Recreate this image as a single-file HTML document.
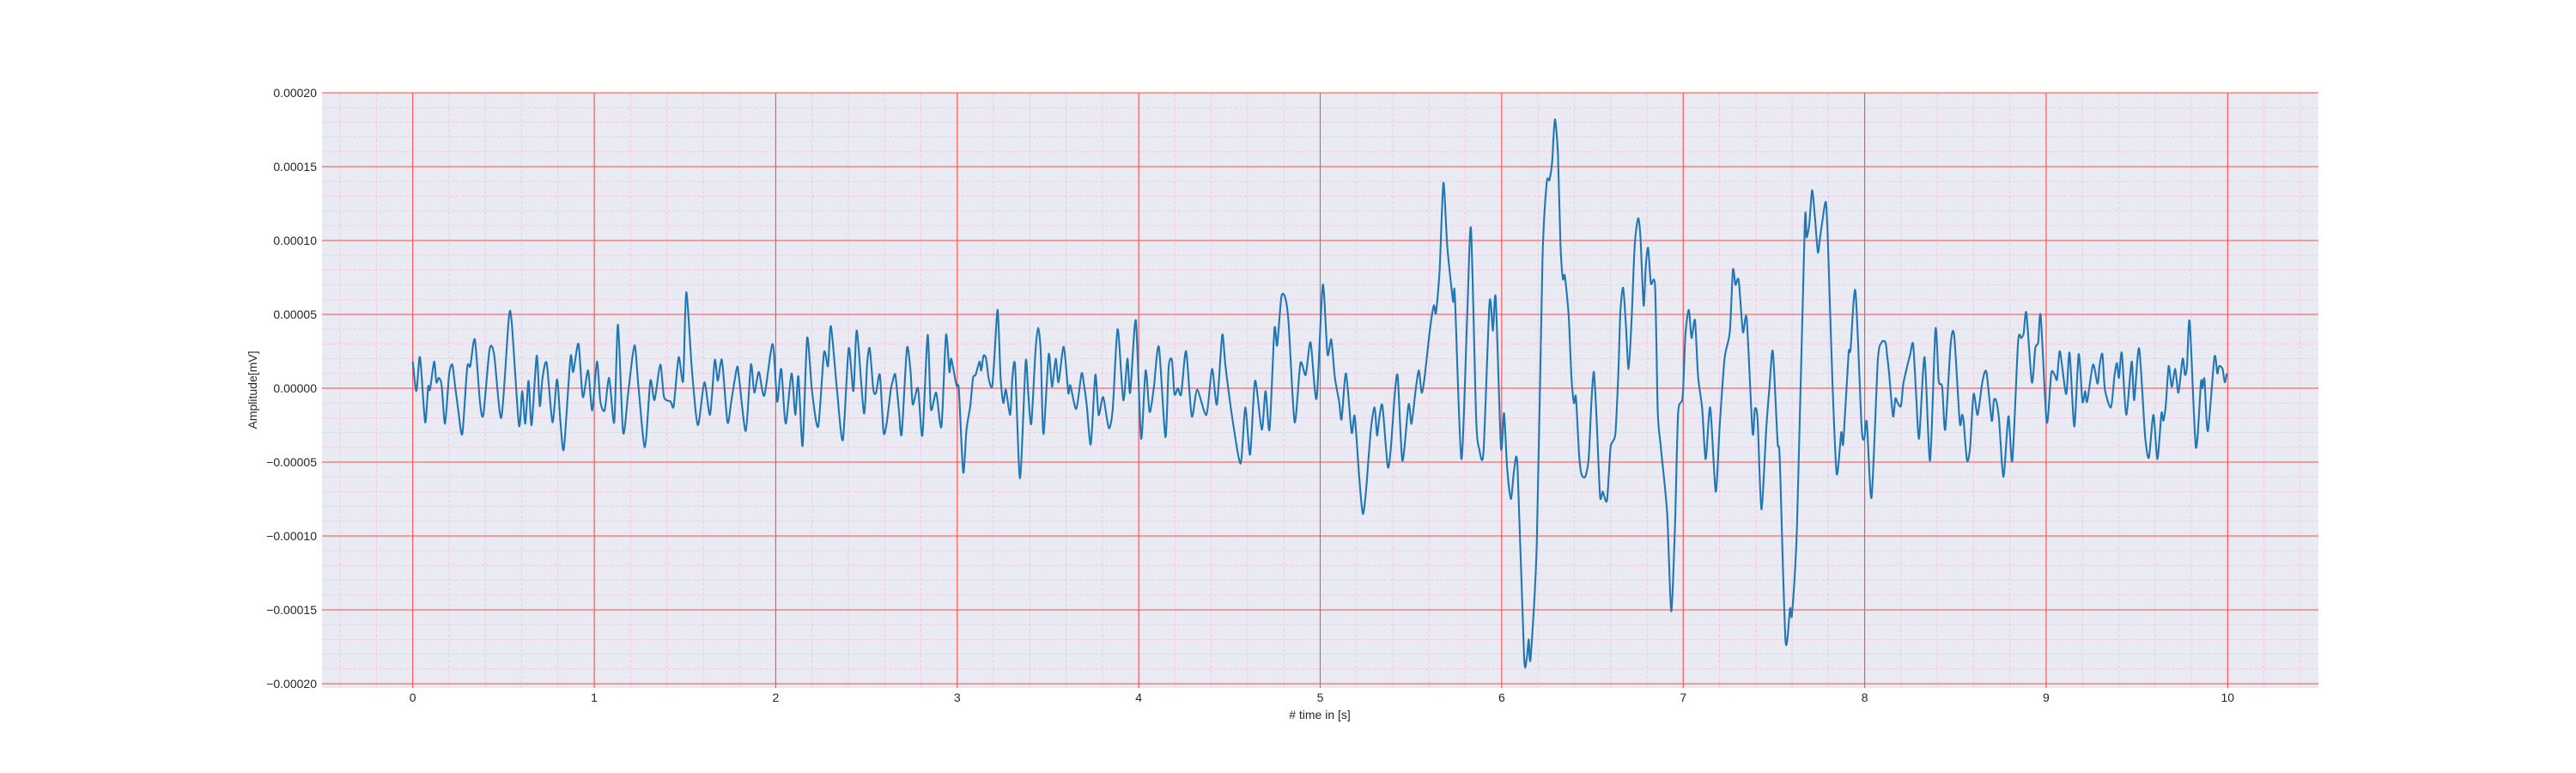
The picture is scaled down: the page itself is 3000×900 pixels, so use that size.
<!DOCTYPE html>
<html><head><meta charset="utf-8"><style>
html,body{margin:0;padding:0;background:#fff;}
svg{display:block;}
text{font-family:"Liberation Sans","DejaVu Sans",sans-serif;fill:#262626;}
</style></head><body>
<svg id="chart" xmlns="http://www.w3.org/2000/svg" width="3000" height="900" viewBox="0 0 3000 900">
<rect x="375" y="108" width="2325" height="693" fill="#eaeaf2"/>
<g id="grid-minor"></g>
<g id="grid-major"></g>
<g id="xticks"></g>
<g id="yticks"></g>
<path id="series" fill="none" stroke="#1f77b4" stroke-width="2.1" stroke-linejoin="round"/>
<text x="1537" y="837" font-size="14" text-anchor="middle"># time in [s]</text>
<text x="0" y="0" font-size="14" text-anchor="middle" transform="translate(299,454) rotate(-90)">Amplitude[mV]</text>
</svg>
<script>
const xTickValues=[0,1,2,3,4,5,6,7,8,9,10];
const yTickValues=[0.0002,0.00015,0.0001,0.00005,0,-0.00005,-0.0001,-0.00015,-0.0002];
const yTickLabels=["0.00020","0.00015","0.00010","0.00005","0.00000","\u22120.00005","\u22120.00010","\u22120.00015","\u22120.00020"];
const timeS=[0,.02,.04,.068,.085,.095,.118,.13,.144,.159,.178,.2,.218,.233,.25,.273,.3,.317,.342,.37,.389,.423,.448,.488,.529,.545,.585,.603,.62,.638,.655,.683,.7,.715,.738,.77,.795,.814,.833,.869,.884,.913,.937,.966,.989,1.015,1.034,1.057,1.082,1.11,1.131,1.159,1.188,1.222,1.243,1.279,1.309,1.332,1.364,1.385,1.421,1.438,1.465,1.49,1.507,1.539,1.571,1.607,1.638,1.664,1.681,1.704,1.734,1.755,1.786,1.797,1.835,1.863,1.882,1.907,1.937,1.983,2.008,2.03,2.055,2.087,2.108,2.125,2.148,2.173,2.2,2.234,2.266,2.288,2.304,2.338,2.37,2.402,2.428,2.447,2.486,2.504,2.518,2.538,2.553,2.574,2.594,2.612,2.634,2.645,2.659,2.679,2.694,2.723,2.743,2.755,2.784,2.808,2.837,2.855,2.884,2.913,2.938,2.957,2.967,2.996,3.009,3.033,3.051,3.072,3.087,3.101,3.123,3.132,3.145,3.159,3.174,3.192,3.205,3.223,3.239,3.254,3.268,3.292,3.304,3.319,3.346,3.377,3.391,3.408,3.431,3.446,3.46,3.475,3.504,3.522,3.543,3.558,3.587,3.612,3.623,3.656,3.685,3.699,3.714,3.736,3.761,3.779,3.804,3.835,3.857,3.884,3.915,3.938,3.953,3.984,4.013,4.038,4.06,4.083,4.111,4.147,4.165,4.183,4.197,4.216,4.234,4.261,4.292,4.322,4.373,4.404,4.431,4.46,4.478,4.518,4.562,4.587,4.614,4.641,4.678,4.699,4.721,4.748,4.763,4.786,4.808,4.826,4.859,4.891,4.92,4.947,4.98,5.014,5.04,5.061,5.08,5.104,5.118,5.142,5.173,5.19,5.216,5.235,5.252,5.279,5.3,5.313,5.326,5.343,5.372,5.389,5.41,5.427,5.453,5.487,5.503,5.527,5.544,5.559,5.575,5.605,5.626,5.638,5.658,5.679,5.7,5.732,5.742,5.778,5.81,5.831,5.859,5.876,5.9,5.933,5.952,5.967,5.996,6.013,6.03,6.051,6.068,6.087,6.123,6.138,6.149,6.159,6.193,6.225,6.248,6.263,6.278,6.293,6.31,6.324,6.337,6.348,6.369,6.384,6.398,6.409,6.426,6.439,6.46,6.479,6.494,6.508,6.523,6.542,6.557,6.58,6.599,6.612,6.627,6.642,6.654,6.669,6.684,6.699,6.716,6.733,6.752,6.765,6.782,6.794,6.807,6.822,6.845,6.86,6.877,6.912,6.934,6.955,6.972,6.997,7.012,7.031,7.046,7.065,7.082,7.105,7.124,7.149,7.179,7.201,7.228,7.257,7.274,7.288,7.306,7.329,7.35,7.382,7.395,7.41,7.431,7.458,7.475,7.494,7.52,7.532,7.564,7.589,7.6,7.627,7.67,7.68,7.695,7.71,7.725,7.742,7.754,7.769,7.786,7.797,7.822,7.846,7.871,7.882,7.911,7.922,7.949,7.983,7.998,8.012,8.038,8.072,8.093,8.115,8.123,8.134,8.156,8.169,8.182,8.2,8.213,8.233,8.251,8.267,8.283,8.3,8.33,8.36,8.39,8.408,8.427,8.444,8.473,8.493,8.524,8.536,8.545,8.564,8.581,8.6,8.622,8.648,8.671,8.7,8.712,8.726,8.741,8.765,8.792,8.814,8.845,8.863,8.876,8.891,8.921,8.94,8.956,8.97,9.003,9.028,9.047,9.06,9.076,9.11,9.129,9.155,9.179,9.2,9.215,9.226,9.258,9.283,9.295,9.31,9.324,9.357,9.376,9.39,9.401,9.417,9.441,9.471,9.485,9.512,9.545,9.566,9.591,9.613,9.635,9.646,9.659,9.675,9.692,9.711,9.729,9.752,9.765,9.776,9.791,9.825,9.853,9.861,9.872,9.891,9.927,9.943,9.953,9.972,9.984,9.995];
const ampE5=[1.8,-.2,2.1,-2.3,.1,-.1,1.8,.4,.7,.2,-2.4,.9,1.6,.2,-1.4,-3.1,1.4,1.5,3.3,-.9,-1.8,2.6,2.3,-2.0,4.7,4.5,-2.5,-.2,-2.4,.5,-2.5,2.2,-1.2,.7,1.7,-2.3,.6,-2.3,-4.1,2.1,1.1,3.0,-.6,1.2,-1.5,1.8,-.9,-1.5,.7,-2.3,4.3,-3.0,-.2,2.9,.2,-4.0,.5,-.8,1.6,-.6,-.9,-1.2,2.1,.5,6.5,1.1,-2.5,.4,-1.8,1.9,.5,1.9,-2.3,-.9,1.4,.8,-2.9,1.6,-.3,1.1,-.5,3.0,-.9,1.3,-2.4,1.0,-1.8,.8,-3.9,3.4,-.2,-2.6,2.4,1.5,4.2,-.2,-3.5,2.7,-.2,3.9,-1.7,1.7,2.7,-.1,-.3,.9,-3.0,-2.3,-.1,.5,.9,-1.5,-3.1,2.7,1.1,-1.1,0,-3.2,3.6,-1.4,-.3,-2.6,3.6,1.1,2.0,.2,-.1,-5.7,-2.8,-1.2,.7,.9,1.8,1.2,2.2,2.0,.6,.1,2.1,5.3,.7,-1.0,-.1,-1.8,.7,1.5,-6.1,1.8,-.3,-2.4,2.5,4.1,2.5,-3.1,2.3,.1,2.0,.4,2.8,-.3,.2,-1.4,1.0,.2,-1.2,-3.8,.9,-1.8,-.6,-2.7,-1.4,4.0,-.8,2.0,-.3,4.6,-3.4,1.2,-1.6,0,2.8,-3.3,1.4,1.9,-.4,0,-.4,2.5,-1.9,-.1,-1.8,1.3,-1.1,3.6,1.5,-2.2,-5.1,-1.3,-4.5,.5,-2.8,-.2,-2.8,4.0,2.9,6.2,6.1,4.4,-2.3,1.7,.9,3.1,-.7,7.0,2.3,3.3,.8,-.9,-2.1,1.0,-3.0,-1.9,-6.2,-8.5,-7.0,-2.8,-1.3,-3.2,-2.0,-1.2,-5.3,-4.1,-.5,.8,-4.9,-1.1,-2.4,0,1.2,-.3,.7,4.0,5.6,5.1,8.0,13.9,9.6,5.9,6.3,-4.8,4.9,10.8,-2.0,-4.1,-4.3,5.8,3.9,6.1,-4.0,-1.7,-5.4,-7.5,-5.6,-5.3,-18.1,-18.3,-17.0,-18.3,-10.6,8.8,13.9,14.1,15.3,18.2,15.8,9.7,7.4,7.6,4.9,.8,-1.0,-.6,-4.4,-5.8,-6.0,-4.8,-1.0,1.1,-2.1,-7.3,-7.0,-7.6,-4.1,-3.6,-3.0,.8,5.2,6.8,4.4,1.3,4.7,9.7,11.5,10.1,5.6,8.3,9.5,7.1,6.9,-1.6,-4.0,-8.5,-15.1,-9.3,-1.7,-.6,3.6,5.3,3.4,4.6,.8,-1.4,-4.8,-1.3,-7.0,-2.6,2.0,3.8,8.0,7.0,7.3,3.8,4.7,-3.0,-1.4,-2.1,-8.2,-2.7,0,2.5,-3.6,-4.8,-17.1,-14.9,-15.3,-9.3,11.0,10.2,11.1,13.4,11.7,9.2,10.2,11.5,12.6,10.1,.5,-5.8,-3.0,-3.7,2.3,2.6,6.6,-2.6,-3.4,-2.3,-7.4,1.8,3.1,3.1,2.3,1.1,-1.9,-.7,-1.0,-1.2,.3,1.4,2.3,3.0,-.3,-3.4,2.1,-4.9,4.0,.5,.1,-2.8,2.9,3.6,-2.3,-1.8,-2.2,-4.9,-4.0,-.4,-1.8,.4,1.1,-2.2,-.8,-.9,-2.2,-6.0,-1.9,-4.9,3.1,3.4,3.7,5.1,.4,2.7,3.1,4.9,-2.3,1.0,.9,.6,2.5,-.4,2.4,-2.6,2.3,-.9,-.2,-.9,1.6,.3,1.6,2.3,-.1,-1.3,.8,1.7,.7,2.4,-1.8,1.8,-.8,2.7,-3.2,-4.7,-1.8,-4.8,-1.7,-2.2,-1.2,1.5,.1,1.3,-.3,2.0,.9,1.5,4.5,-4.0,.4,0,.6,-2.9,2.1,1.0,1.5,1.3,.4,1.0];

const NS='http://www.w3.org/2000/svg';
const L=375,R=2700,T=108,B=801;
const xMin=-0.5,xMax=10.5;
function xs(t){return L+(t-xMin)/(xMax-xMin)*(R-L);}
function ys(v){return T+(0.0002-v)*1720000;}
function line(g,x1,y1,x2,y2,stroke,w,dash,name){
  const l=document.createElementNS(NS,'line');
  l.setAttribute('x1',x1);l.setAttribute('y1',y1);l.setAttribute('x2',x2);l.setAttribute('y2',y2);
  l.setAttribute('stroke',stroke);l.setAttribute('stroke-width',w);
  if(dash)l.setAttribute('stroke-dasharray',dash);
  
  
  g.appendChild(l);
}
const gMin=document.getElementById('grid-minor');
for(let i=-2;i<=52;i++){const t=i*0.2;if(i%5===0)continue;const x=xs(t);if(x<L||x>R)continue;line(gMin,x,T,x,B,'#f5c4e8',0.9,'4,2','minor-gridline-x');}
for(let i=-20;i<=20;i++){if(i%5===0)continue;const y=ys(i*0.00001);line(gMin,L,y,R,y,'#f5c4e8',0.9,'4,2','minor-gridline-y');}
const gMaj=document.getElementById('grid-major');
const gx=document.getElementById('xticks'),gy=document.getElementById('yticks');
xTickValues.forEach(t=>{const x=xs(t);line(gMaj,x,T,x,B,'#ff4a4a',1.1,null,'major-gridline-x');
  const tx=document.createElementNS(NS,'text');tx.setAttribute('x',x);tx.setAttribute('y',817);tx.setAttribute('font-size','14');tx.setAttribute('text-anchor','middle');tx.textContent=String(t);
  
  
  gx.appendChild(tx);});
yTickValues.forEach((v,i)=>{const y=ys(v);line(gMaj,L,y,R,y,'#ff4a4a',1.1,null,'major-gridline-y');
  const tx=document.createElementNS(NS,'text');tx.setAttribute('x',369);tx.setAttribute('y',y+5);tx.setAttribute('font-size','14');tx.setAttribute('text-anchor','end');tx.textContent=yTickLabels[i];
  
  
  gy.appendChild(tx);});
const pts=timeS.map((t,i)=>[xs(t),ys(ampE5[i]*1e-5)]);
let d='M'+pts[0][0].toFixed(1)+','+pts[0][1].toFixed(1);
const k=0.25;
for(let i=0;i<pts.length-1;i++){
  const p0=pts[Math.max(0,i-1)],p1=pts[i],p2=pts[i+1],p3=pts[Math.min(pts.length-1,i+2)];
  const c1=[p1[0]+(p2[0]-p0[0])*k/2,p1[1]+(p2[1]-p0[1])*k/2];
  const c2=[p2[0]-(p3[0]-p1[0])*k/2,p2[1]-(p3[1]-p1[1])*k/2];
  d+='C'+c1[0].toFixed(1)+','+c1[1].toFixed(1)+' '+c2[0].toFixed(1)+','+c2[1].toFixed(1)+' '+p2[0].toFixed(1)+','+p2[1].toFixed(1);
}
document.getElementById('series').setAttribute('d',d);
</script>
</body></html>
